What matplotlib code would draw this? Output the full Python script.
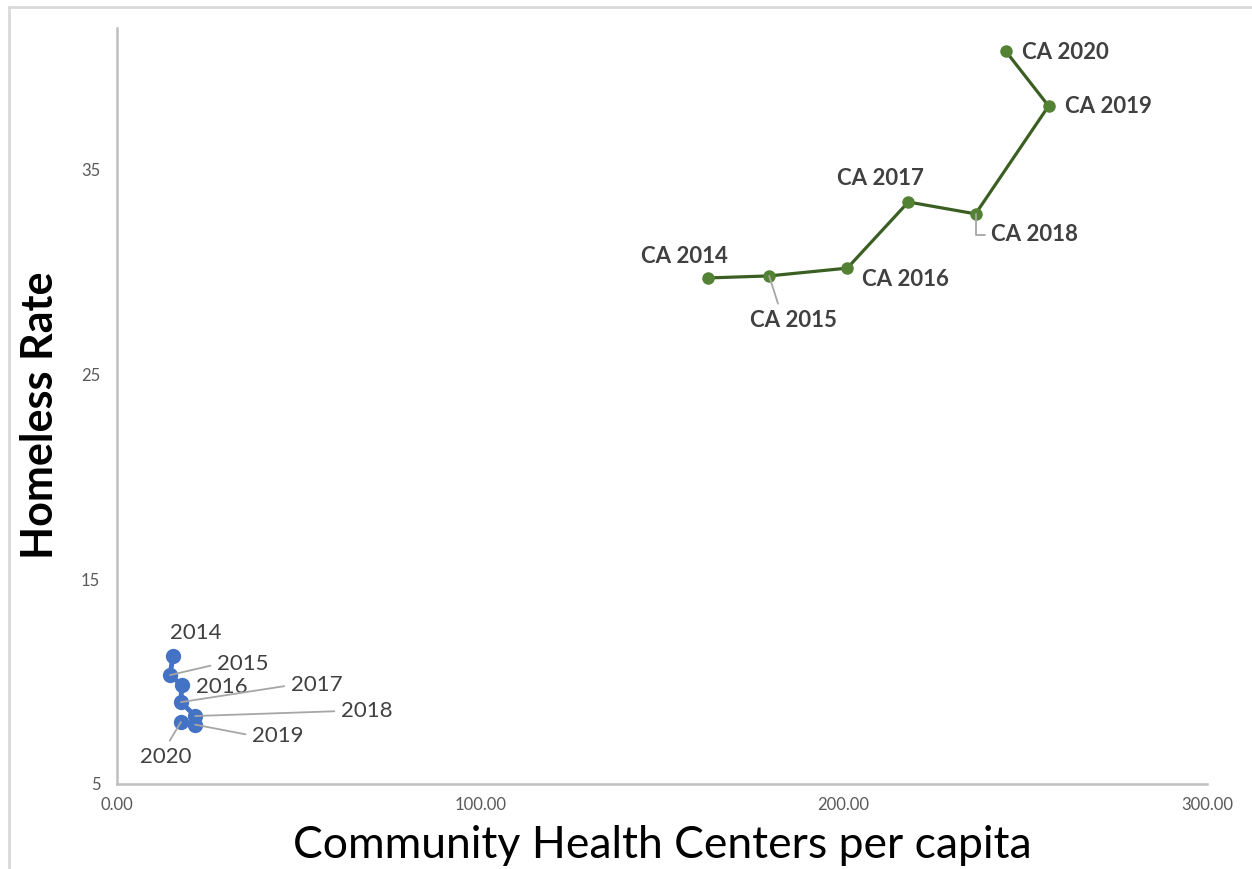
import matplotlib
matplotlib.use('Agg')
import matplotlib.pyplot as plt
from matplotlib.lines import Line2D

plt.rcParams['font.family'] = ['Lato', 'DejaVu Sans']

# US series (blue)
us_x = [15.4, 14.6, 17.8, 17.6, 21.5, 21.5, 17.6]
us_y = [11.25, 10.32, 9.84, 9.00, 8.32, 7.90, 8.03]
us_labels = ['2014', '2015', '2016', '2017', '2018', '2019', '2020']

# California series (green)
ca_x = [162.7, 179.5, 201.0, 217.8, 236.3, 256.4, 244.6]
ca_y = [29.72, 29.82, 30.20, 33.43, 32.85, 38.12, 40.80]
ca_labels = ['CA 2014', 'CA 2015', 'CA 2016', 'CA 2017', 'CA 2018', 'CA 2019', 'CA 2020']

x_ticks = [0, 100, 200, 300]
y_ticks = [5, 15, 25, 35]

# label offsets in pixels (dx, dy up), and leader attach point
us_off = [(23, 23, None), (73, 11, (0, 0.5)), (40, -2, None), (136, 17, (0, 0.5)),
          (172, 5, (0, 0.5)), (83, -11, (0, 0.5)), (-15, -35, (0.5, 1))]
ca_off = [(-24, 21, None), (24, -45, (0.35, 1)), (58, -11, None), (-28, 24, None),
          (59, -21, 'elbow'), (60, -1, None), (60, -1, None)]

W, H = 1252, 869
fig = plt.figure(figsize=(W / 100, H / 100), dpi=100)
ax = fig.add_axes([117 / W, 1 - 784 / H, (1207 - 117) / W, (784 - 28) / H])

ax.plot(us_x, us_y, color='#4472C4', lw=3.5, marker='o', ms=10, zorder=3)
ax.plot(ca_x, ca_y, color='#3B5E22', lw=2.3, marker='o', ms=8,
        mfc='#548235', mec='#548235', zorder=3)

px2pt = 72 / 100
lead = '#A6A6A6'

def put_labels(xs, ys, labels, offs, bold):
    for x, y, lab, (dx, dy, rel) in zip(xs, ys, labels, offs):
        kw = dict(xy=(x, y), xytext=(dx * px2pt, dy * px2pt), textcoords='offset points',
                  ha='center', va='center', fontsize=16, color='#404040',
                  fontweight='bold' if bold else 'normal', zorder=4)
        if rel == 'elbow':
            kw['arrowprops'] = dict(arrowstyle='-', color=lead, lw=1.3, shrinkA=2, shrinkB=0,
                                    relpos=(0, 0.5),
                                    connectionstyle='angle,angleA=0,angleB=90,rad=0')
        elif rel is not None:
            kw['arrowprops'] = dict(arrowstyle='-', color=lead, lw=1.3, shrinkA=3, shrinkB=0,
                                    relpos=rel)
        ax.annotate(lab, **kw)

put_labels(us_x, us_y, us_labels, us_off, False)
put_labels(ca_x, ca_y, ca_labels, ca_off, True)

ax.set_xlim(0, 300)
ax.set_ylim(5, 41.93)
ax.set_xticks(x_ticks)
ax.set_xticklabels(['%.2f' % v for v in x_ticks])
ax.set_yticks(y_ticks)
ax.tick_params(length=0, labelsize=12, labelcolor='#595959')
ax.tick_params(axis='y', pad=12)
ax.tick_params(axis='x', pad=9)
for s in ['top', 'right']:
    ax.spines[s].set_visible(False)
for s in ['left', 'bottom']:
    ax.spines[s].set_color('#BFBFBF')
    ax.spines[s].set_linewidth(1.8)

ax.set_xlabel('Community Health Centers per capita', fontsize=32, color='black', labelpad=9)
ax.set_ylabel('Homeless Rate', fontsize=31, fontweight='bold', color='black')
ax.yaxis.set_label_coords(-0.052, 0.488)

# chart-area border (only top and left visible in the crop)
fig.add_artist(Line2D([9 / W, 1], [1 - 7 / H, 1 - 7 / H], color='#D9D9D9', lw=2))
fig.add_artist(Line2D([9 / W, 9 / W], [0, 1 - 7 / H], color='#D9D9D9', lw=2))

fig.savefig('out.png', dpi=100)
